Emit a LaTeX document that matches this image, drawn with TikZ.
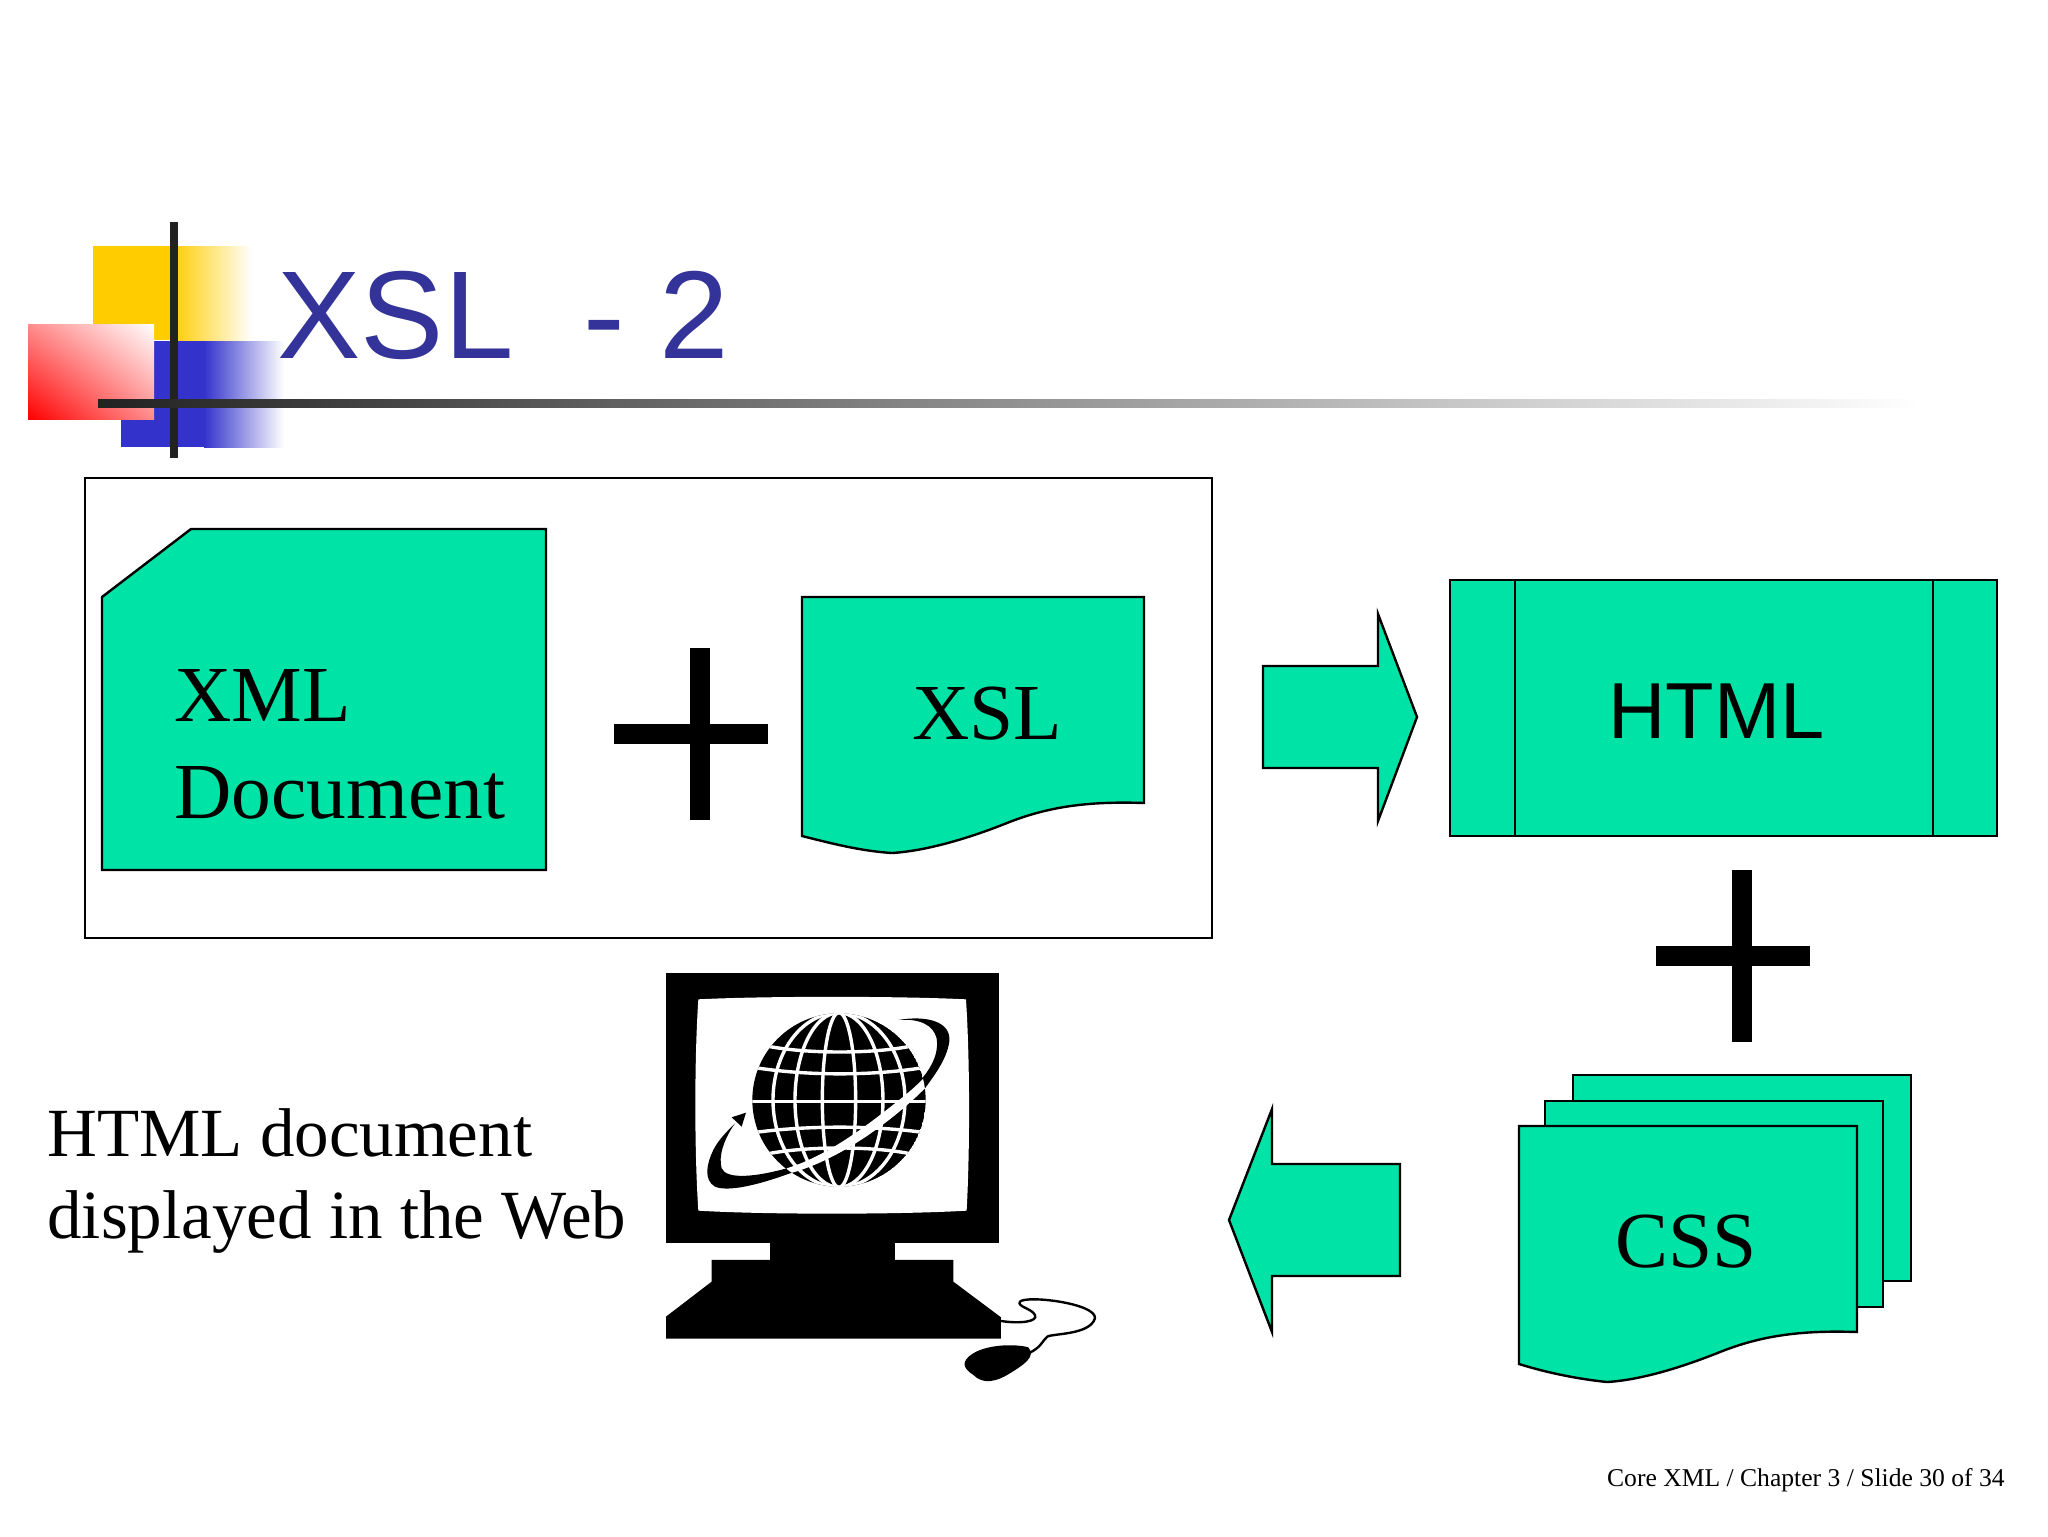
\documentclass[tikz,border=0pt]{standalone}
\usepackage{fontspec}
\usetikzlibrary{shadings}
\setmainfont{Liberation Serif}
\newfontfamily\slidesans{Liberation Sans}
\definecolor{sheetgreen}{HTML}{00E3A6}
\definecolor{titleblue}{HTML}{333399}
\definecolor{barblack}{HTML}{222222}
\definecolor{logoyellow}{HTML}{FFCC00}
\definecolor{logoblue}{HTML}{3333CC}
\tikzset{
  GreenShape/.style = {draw = black, fill = sheetgreen, line width = 1.2pt, line join = miter},
  SerifLabel/.style = {inner sep = 0pt, anchor = base west, font = \fontsize{39.7pt}{48pt}\selectfont},
  SansLabel/.style = {inner sep = 0pt, anchor = base west, font = \slidesans\fontsize{39.7pt}{48pt}\selectfont},
  CaptionLabel/.style = {inner sep = 0pt, anchor = base west, font = \fontsize{34.5pt}{40pt}\selectfont},
  GridLine/.style = {draw = white, line width = 1.7pt}
}

\begin{document}
\begin{tikzpicture}[x=0.5pt,y=-0.5pt]
    \path [use as bounding box, fill = white] (0,0) rectangle (2048,1536);

    % logo squares
    \fill [logoyellow] (93,246) rectangle (172,340);
    \shade [left color = logoyellow, right color = white] (172,246) rectangle (252,340);
    \fill [logoblue] (121,341) rectangle (204,447);
    \shade [left color = logoblue, right color = white] (204,341) rectangle (284,447);
    \shade [lower left = red, upper right = white, upper left = red!45, lower right = red!45] (28,324) rectangle (154,419);
    \fill [barblack] (170,222) rectangle (178,458);
    \shade [left color = barblack, right color = white] (98,399) rectangle (1920,407);

    \node (title) [anchor = base west, inner sep = 0pt, text = titleblue,
        font = \slidesans\fontsize{62.5pt}{74pt}\selectfont] at (277,358) {XSL\ \ - 2};

    % left box
    \draw [line width = 1pt] (85,478) rectangle (1212,938);
    \draw [GreenShape] (102,597) -- (191,529) -- (546,529) -- (546,870) -- (102,870) -- cycle;
    \node (xml) [SerifLabel] at (174,721) {XML};
    \node (document) [SerifLabel] at (174,818) {Document};
    \draw [GreenShape] (802,597) -- (1144,597) -- (1144,803)
        .. controls (1087,801) and (1047,807) .. (1007,823)
        .. controls (967,839) and (925,851) .. (892,853)
        .. controls (860,851) and (830,843) .. (802,836) -- cycle;
    \node (xsl) [SerifLabel] at (912,739) {XSL};

    % plus signs
    \foreach \px/\py in {700/733.5, 1741.5/955.5} {
        \fill (\px-10,\py-86) rectangle (\px+10,\py+86);
        \fill (\px-86,\py-10) rectangle (\px+68,\py+10);
    }

    % block arrows
    \draw [GreenShape] (1263,666) -- (1378,666) -- (1378,614) -- (1417,717) -- (1378,821) -- (1378,768) -- (1263,768) -- cycle;
    \draw [GreenShape] (1229,1220) -- (1272,1109) -- (1272,1164) -- (1400,1164) -- (1400,1276) -- (1272,1276) -- (1272,1332) -- cycle;

    % html
    \draw [GreenShape] (1450,580) rectangle (1997,836);
    \draw [line width = 1pt] (1515,580) -- (1515,836);
    \draw [line width = 1pt] (1933,580) -- (1933,836);
    \node (html) [SansLabel] at (1608,738) {HTML};

    % css sheets
    \foreach \sx/\sy in {54/-51, 26/-25} {
        \draw [GreenShape] (1519+\sx,1126+\sy) rectangle (1857+\sx,1332+\sy);
    }
    \draw [GreenShape] (1519,1126) -- (1857,1126) -- (1857,1332)
        .. controls (1800,1330) and (1760,1336) .. (1720,1352)
        .. controls (1680,1368) and (1640,1380) .. (1607,1382)
        .. controls (1578,1379) and (1548,1373) .. (1519,1364) -- cycle;
    \node (css) [SerifLabel] at (1615,1267) {CSS};

    \node (web1) [CaptionLabel] at (47,1156) {HTML document};
    \node (web2) [CaptionLabel] at (47,1238) {displayed in the Web};

    % computer
    \begin{scope}[shift={(640,960)},scale=0.3333]
        \fill (77,38) rectangle (1078,850);
        \fill [white] (175,118) .. controls (370,108) and (780,108) .. (978,118)
            .. controls (990,300) and (990,570) .. (980,752)
            .. controls (780,764) and (370,764) .. (175,752)
            .. controls (163,570) and (163,300) .. (175,118) -- cycle;
        \fill (390,840) rectangle (765,910);
        \fill (215,900) -- (940,900) -- (940,965) -- (1083,1072) -- (1083,1136) -- (78,1136) -- (78,1070) -- (215,965) -- cycle;
        \draw [line width = 1.2pt] (1083,1083) .. controls (1140,1092) and (1195,1085) .. (1185,1065)
            .. controls (1175,1045) and (1130,1040) .. (1140,1025)
            .. controls (1160,1005) and (1370,1030) .. (1365,1075)
            .. controls (1350,1125) and (1240,1120) .. (1222,1130)
            .. controls (1205,1145) and (1205,1160) .. (1170,1178);
        \fill (1165,1162) .. controls (1120,1150) and (1040,1155) .. (1000,1180)
            .. controls (960,1205) and (970,1225) .. (1000,1245)
            .. controls (1030,1275) and (1070,1265) .. (1110,1240)
            .. controls (1150,1215) and (1190,1190) .. (1165,1162) -- cycle;

        % orbit behind the globe
        \fill (775,180) .. controls (860,165) and (935,185) .. (928,245)
            .. controls (920,300) and (880,350) .. (855,385)
            .. controls (760,480) and (600,600) .. (450,640)
            .. controls (340,680) and (260,695) .. (225,680)
            .. controls (190,660) and (200,610) .. (220,570)
            .. controls (235,540) and (260,515) .. (285,490)
            .. controls (250,540) and (235,590) .. (245,625)
            .. controls (260,660) and (350,650) .. (440,625)
            .. controls (570,585) and (690,490) .. (790,410)
            .. controls (850,360) and (900,300) .. (890,235)
            .. controls (880,195) and (840,175) .. (775,180) -- cycle;
        \fill (318,458) -- (275,472) -- (305,500) -- cycle;

        % globe
        \begin{scope}
            \clip (597,420) circle (260);
            \fill (597,420) circle (260);
            \foreach \mrx in {50,132,198} {
                \draw [GridLine] (597,420) ellipse (\mrx*1 and 262);
            }
            \draw [GridLine] (330,425) -- (860,425);
            \draw [GridLine] (380,258) .. controls (500,282) and (700,282) .. (815,258);
            \draw [GridLine] (340,322) .. controls (500,348) and (700,348) .. (855,322);
            \draw [GridLine] (340,518) .. controls (500,496) and (700,496) .. (855,518);
            \draw [GridLine] (380,582) .. controls (500,558) and (700,558) .. (815,582);
            \fill [white] (855,385)
                .. controls (760,480) and (600,600) .. (450,640)
                -- (440,625)
                .. controls (570,585) and (690,490) .. (790,410)
                .. controls (820,385) and (850,360) .. (870,330) -- cycle;
        \end{scope}
    \end{scope}

    \node (footer) [anchor = base east, inner sep = 0pt, font = \fontsize{12.8pt}{16pt}\selectfont] at (2005,1486) {Core XML / Chapter 3 / Slide 30 of 34};
\end{tikzpicture}
\end{document}
